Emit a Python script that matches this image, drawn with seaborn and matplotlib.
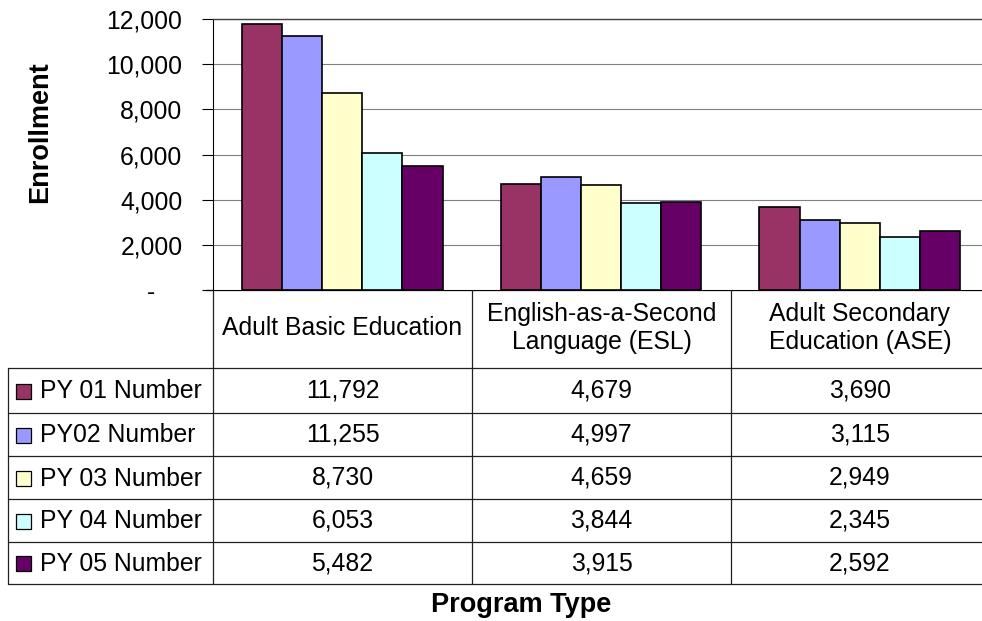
import numpy as np
import pandas as pd
import seaborn as sns
import matplotlib.pyplot as plt
from matplotlib.patches import Rectangle

# 数据
programs = ["Adult Basic Education", "English-as-a-Second\nLanguage (ESL)",
            "Adult Secondary\nEducation (ASE)"]
series_names = ["PY 01 Number", "PY02 Number", "PY 03 Number",
                "PY 04 Number", "PY 05 Number"]
py01 = [11792, 4679, 3690]
py02 = [11255, 4997, 3115]
py03 = [8730, 4659, 2949]
py04 = [6053, 3844, 2345]
py05 = [5482, 3915, 2592]
colors = ["#993366", "#9999FF", "#FFFFCC", "#CCFFFF", "#660066"]
y_ticks = [0, 2000, 4000, 6000, 8000, 10000, 12000]

all_series = [py01, py02, py03, py04, py05]
rows = []
for name, vals in zip(series_names, all_series):
    for prog, v in zip(programs, vals):
        rows.append({"program": prog, "series": name, "value": v})
df = pd.DataFrame(rows)

sns.set_style("white")
plt.rcParams['font.family'] = ['Liberation Sans', 'DejaVu Sans']
plt.rcParams['text.color'] = 'black'
plt.rcParams['ytick.color'] = 'black'
plt.rcParams['ytick.labelcolor'] = 'black'

W, H = 982, 621
fig = plt.figure(figsize=(W / 100, H / 100), dpi=100)

# 绘图区 (像素位置)
left, right, top, bottom = 213, 989, 19, 290
ax = fig.add_axes([left / W, 1 - bottom / H, (right - left) / W, (bottom - top) / H])
sns.barplot(data=df, x="program", y="value", hue="series", palette=colors,
            width=0.775, gap=0, edgecolor="black", linewidth=1.2,
            saturation=1, legend=False, ax=ax, zorder=3)
ax.set_xlim(-0.5, len(programs) - 0.5)
ax.set_ylim(0, 12000)
ax.set_yticks(y_ticks)
ax.set_yticklabels([f"{v:,}" if v else "-    " for v in y_ticks], fontsize=17.8)
ax.set_xticks([])
ax.set_xlabel("")
ax.set_ylabel("")
ax.yaxis.grid(True, color="#808080", linewidth=0.8, zorder=0)
ax.tick_params(axis="y", direction="out", length=8, width=0.8, pad=14, left=True)
for s in ["right", "bottom"]:
    ax.spines[s].set_visible(False)
ax.spines["left"].set_color("black")
ax.spines["left"].set_linewidth(0.8)
ax.spines["top"].set_color("#404040")
ax.spines["top"].set_linewidth(1.0)

# 数据表
tab = fig.add_axes([0, 0, 1, 1], zorder=-1)
tab.set_xlim(0, W)
tab.set_ylim(H, 0)
tab.axis("off")
col_x = [213, 472, 731, 989]
row_y = [368, 413, 456, 499, 542, 584]
lc = "#202020"
lw = 0.9
tab.plot([205, 989], [290, 290], color="black", lw=lw)
for x in col_x[:-1]:
    tab.plot([x, x], [290, 584], color=lc, lw=lw)
tab.plot([8, 8], [368, 584], color=lc, lw=lw)
for y in row_y:
    tab.plot([8, 989], [y, y], color=lc, lw=lw)

fs = 17.8
for j, prog in enumerate(programs):
    cx = (col_x[j] + col_x[j + 1]) / 2
    tab.text(cx, 328, prog, ha="center", va="center", fontsize=fs, linespacing=1.2)

for i, (name, vals) in enumerate(zip(series_names, all_series)):
    cy = (row_y[i] + row_y[i + 1]) / 2
    tab.add_patch(Rectangle((16, cy - 7), 15, 15, facecolor=colors[i],
                            edgecolor="black", lw=0.9))
    tab.text(40, cy + 1, name, ha="left", va="center", fontsize=fs)
    for j, v in enumerate(vals):
        cx = (col_x[j] + col_x[j + 1]) / 2
        tab.text(cx, cy, f"{v:,}", ha="center", va="center", fontsize=fs)

tab.text(521, 605, "Program Type", ha="center", va="center",
         fontsize=19.5, fontweight="bold")
tab.text(40, 132, "Enrollment", ha="center", va="center", rotation=90,
         fontsize=19.5, fontweight="bold")

fig.savefig("out.png", dpi=100)
